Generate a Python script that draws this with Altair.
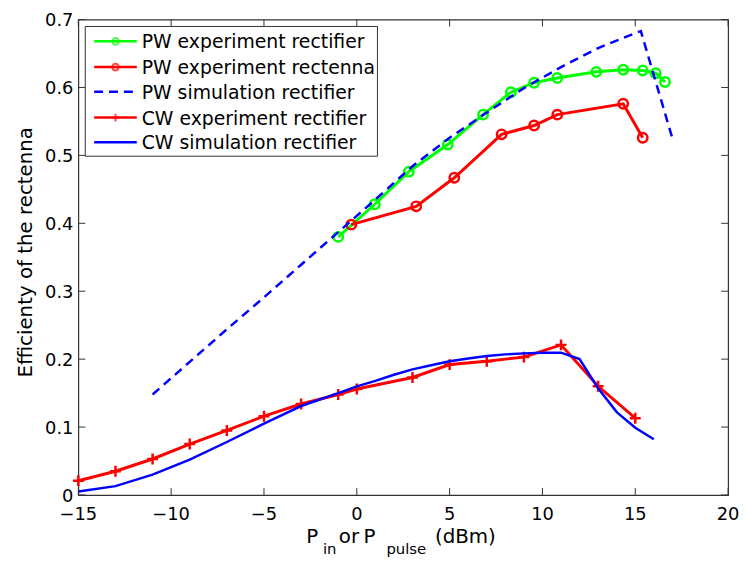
import altair as alt
import pandas as pd

# ---------------- data ----------------
pw_rect_x = [-1.0, 0.97, 2.8, 4.9, 6.8, 8.3, 9.55, 10.8, 12.9, 14.35, 15.4, 16.1, 16.6]
pw_rect_y = [0.380, 0.428, 0.476, 0.516, 0.560, 0.593, 0.607, 0.614, 0.623, 0.626, 0.625, 0.621, 0.608]

pw_ant_x = [-0.3, 3.2, 5.25, 7.8, 9.55, 10.8, 14.35, 15.4]
pw_ant_y = [0.398, 0.425, 0.467, 0.531, 0.544, 0.560, 0.576, 0.526]

pw_sim_x = [-11, -9, -7, -5, -3, -1, 1, 3, 5, 7, 9, 11, 13, 15, 15.3, 17]
pw_sim_y = [0.148, 0.196, 0.244, 0.291, 0.339, 0.387, 0.435, 0.484, 0.526, 0.563, 0.599, 0.630, 0.658, 0.680, 0.683, 0.525]

cw_exp_x = [-15, -13, -11, -9, -7, -5, -3, -1, 0, 3, 5, 7, 9, 11, 13, 15]
cw_exp_y = [0.021, 0.035, 0.053, 0.075, 0.095, 0.116, 0.134, 0.148, 0.156, 0.173, 0.192, 0.197, 0.203, 0.221, 0.160, 0.113]

cw_sim_x = [-15, -13, -11, -9, -7, -5, -3, -1, 0, 1, 2, 3, 4, 5, 6, 7, 8, 9, 10, 11, 12, 13, 14, 15, 16]
cw_sim_y = [0.005, 0.013, 0.030, 0.052, 0.078, 0.105, 0.131, 0.150, 0.160, 0.168, 0.177, 0.185, 0.191, 0.197, 0.201,
            0.2045, 0.207, 0.2085, 0.2095, 0.2095, 0.200, 0.157, 0.122, 0.099, 0.082]

x_ticks = [-15, -10, -5, 0, 5, 10, 15, 20]
x_tick_labels = ["\u221215", "\u221210", "\u22125", "0", "5", "10", "15", "20"]
y_ticks = [0, 0.1, 0.2, 0.3, 0.4, 0.5, 0.6, 0.7]
y_tick_labels = ["0", "0.1", "0.2", "0.3", "0.4", "0.5", "0.6", "0.7"]

legend_labels = ["PW experiment rectifier", "PW experiment rectenna", "PW simulation rectifier",
                 "CW experiment rectifier", "CW simulation rectifier"]

# ---------------- layout ----------------
W, H = 656, 480
FONT = "DejaVu Sans"
GREEN, RED, BLUE = "#00ff00", "#ff0000", "#0000ff"
FRAME = "#333333"

xscale = alt.Scale(domain=[-15, 20], nice=False, zero=False)
yscale = alt.Scale(domain=[0, 0.7], nice=False, zero=False)

PLUS = "M-1,0H1M0,-1V1"


def series(xs, ys, color, width, dash=None, shape=None, size=70):
    df = pd.DataFrame({"x": xs, "y": ys})
    kw = dict(color=color, strokeWidth=width, clip=False)
    if dash:
        kw["strokeDash"] = dash
    if shape:
        kw["point"] = alt.OverlayMarkDef(shape=shape, filled=False, stroke=color, fill=None,
                                         strokeWidth=2.5, size=size)
    return alt.Chart(df).mark_line(**kw).encode(
        x=alt.X("x:Q", scale=xscale, axis=None),
        y=alt.Y("y:Q", scale=yscale, axis=None),
    )


layers = [
    series(pw_rect_x, pw_rect_y, GREEN, 3, shape="circle", size=90),
    series(pw_ant_x, pw_ant_y, RED, 3, shape="circle", size=90),
    series(pw_sim_x, pw_sim_y, BLUE, 2.5, dash=[9, 6]),
    series(cw_exp_x, cw_exp_y, RED, 3, shape=PLUS, size=121),
    series(cw_sim_x, cw_sim_y, BLUE, 2.5),
]

# inward tick marks on all four sides + tick labels
tx = pd.DataFrame({"t": x_ticks, "lab": x_tick_labels})
ty = pd.DataFrame({"t": y_ticks, "lab": y_tick_labels})
tick_len = 7
XT = alt.X("t:Q", scale=xscale, axis=None)
YT = alt.Y("t:Q", scale=yscale, axis=None)
layers += [
    alt.Chart(tx).mark_rule(color=FRAME, strokeWidth=1).encode(x=XT, y=alt.value(H), y2=alt.value(H - tick_len)),
    alt.Chart(tx).mark_rule(color=FRAME, strokeWidth=1).encode(x=XT, y=alt.value(0), y2=alt.value(tick_len)),
    alt.Chart(ty).mark_rule(color=FRAME, strokeWidth=1).encode(y=YT, x=alt.value(0), x2=alt.value(tick_len)),
    alt.Chart(ty).mark_rule(color=FRAME, strokeWidth=1).encode(y=YT, x=alt.value(W), x2=alt.value(W - tick_len)),
    alt.Chart(tx).mark_text(font=FONT, fontSize=18, align="center", baseline="alphabetic", color="black").encode(
        x=XT, y=alt.value(H + 25), text="lab:N"),
    alt.Chart(ty).mark_text(font=FONT, fontSize=18, align="right", baseline="alphabetic", color="black",
                            dy=7).encode(y=YT, x=alt.value(-5), text="lab:N"),
]

one = pd.DataFrame({"k": [0]})

# legend box
layers.append(alt.Chart(one).mark_rect(fill="white", stroke=FRAME, strokeWidth=1).encode(
    x=alt.value(7), x2=alt.value(302), y=alt.value(7), y2=alt.value(138)))

legend_rows = [22, 48, 73, 99, 124]
legend_styles = [
    (GREEN, None, "circle"),
    (RED, None, "circle"),
    (BLUE, [9, 6], None),
    (RED, None, PLUS),
    (BLUE, None, None),
]
for label, yy, (col, dash, shp) in zip(legend_labels, legend_rows, legend_styles):
    rk = dict(color=col, strokeWidth=2.5)
    if dash:
        rk["strokeDash"] = dash
    layers.append(alt.Chart(one).mark_rule(**rk).encode(
        x=alt.value(16), x2=alt.value(59), y=alt.value(yy)))
    if shp:
        layers.append(alt.Chart(one).mark_point(shape=shp, filled=False, stroke=col, strokeWidth=2,
                                                size=45 if shp == "circle" else 64).encode(
            x=alt.value(37.5), y=alt.value(yy)))
    layers.append(alt.Chart(one).mark_text(font=FONT, fontSize=19, align="left", baseline="middle",
                                           color="black").encode(
        x=alt.value(64), y=alt.value(yy + 1), text=alt.value(label)))

# y-axis title
layers.append(alt.Chart(one).mark_text(font=FONT, fontSize=20, angle=270, align="center",
                                       baseline="alphabetic", color="black").encode(
    x=alt.value(-47), y=alt.value(235), text=alt.value("Efficienty of the rectenna")))

# x-axis title with subscripts
title_parts = [
    ("P", 230, 528, 20),
    ("in", 247, 540, 15),
    ("or", 263, 528, 20),
    ("P", 288, 528, 20),
    ("pulse", 311, 540, 15),
    ("(dBm)", 360, 528, 20),
]
for txt, px, py, fs in title_parts:
    layers.append(alt.Chart(one).mark_text(font=FONT, fontSize=fs, align="left", baseline="alphabetic",
                                           color="black").encode(
        x=alt.value(px), y=alt.value(py), text=alt.value(txt)))

chart = alt.layer(*layers).properties(
    width=W, height=H,
    padding={"left": 71, "top": 9, "right": 11, "bottom": 64},
    autosize=alt.AutoSizeParams(type="none"),
    background="white",
).configure_view(stroke=FRAME, strokeWidth=1.2)

chart.save("out.html", embed_options={"renderer": "svg", "actions": False})
